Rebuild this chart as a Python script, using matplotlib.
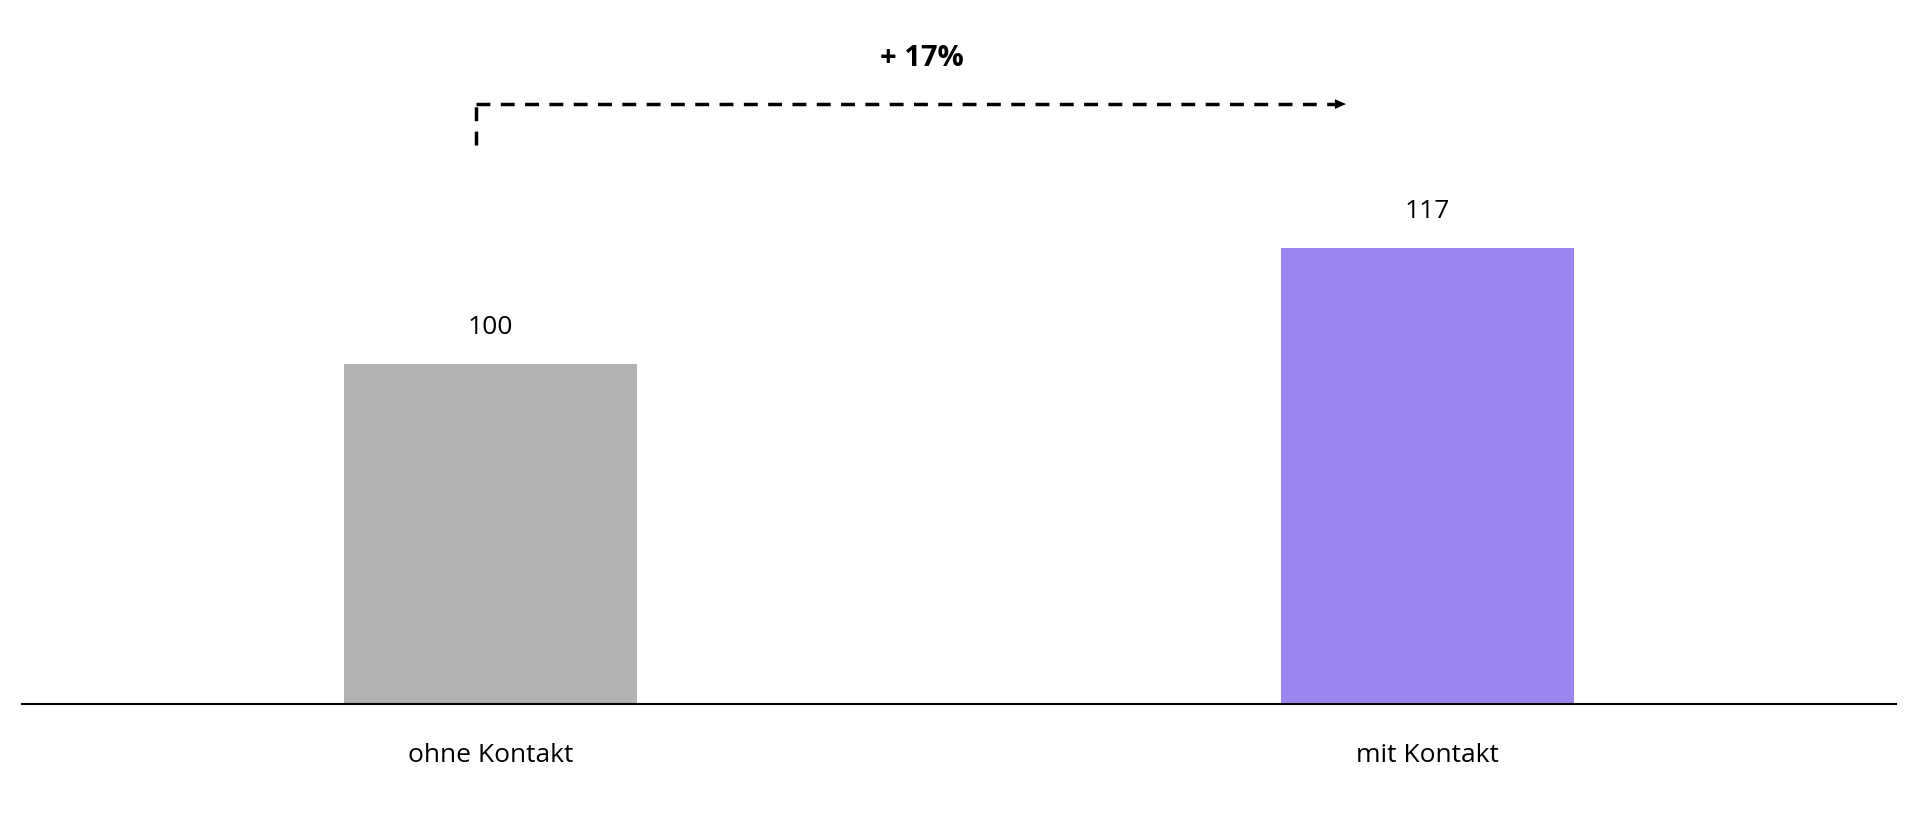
import matplotlib
matplotlib.use("Agg")
import matplotlib.pyplot as plt

categories = ["ohne Kontakt", "mit Kontakt"]
values = [100, 117]
colors = ["#b2b2b2", "#9b85ee"]
change_label = "+ 17%"

plt.rcParams['font.family'] = ['Open Sans', 'DejaVu Sans']
fig = plt.figure(figsize=(19.2, 8.19), dpi=100)
ax = fig.add_axes([0.0115, 0.1404, 0.976, 0.8596])
x = list(range(len(categories)))
ax.bar(x, values, width=0.313, color=colors, bottom=0)
ax.set_xlim(-0.5, 1.5)
ax.set_ylim(50, 153.5)
for s in ["top", "right", "left"]:
    ax.spines[s].set_visible(False)
ax.spines["bottom"].set_linewidth(1.5)
ax.set_yticks([])
ax.set_xticks(x)
ax.set_xticklabels(categories, fontsize=19)
ax.tick_params(axis="x", length=0, pad=28)
for xi, v in zip(x, values):
    ax.text(xi, v + 3.5, f"{v}", ha="center", va="bottom", fontsize=19)

xs, xe = -0.0155, 0.916
y0, y1 = 132.2, 138.2
ax.plot([xs, xs], [y0, y1], ls=(0, (4, 3)), color="black", lw=2.5)
ax.plot([xs, xe - 0.01], [y1, y1], ls=(0, (4, 3)), color="black", lw=2.5)
ax.annotate("", xy=(xe, y1), xytext=(xe - 0.02, y1),
            arrowprops=dict(arrowstyle="-|>,head_length=0.8,head_width=0.35", color="black", lw=0))
ax.text((xs + xe) / 2 + 0.01, 144.9, change_label, ha="center", va="center", fontsize=21, fontweight="bold")
fig.savefig("out.png", dpi=100)
